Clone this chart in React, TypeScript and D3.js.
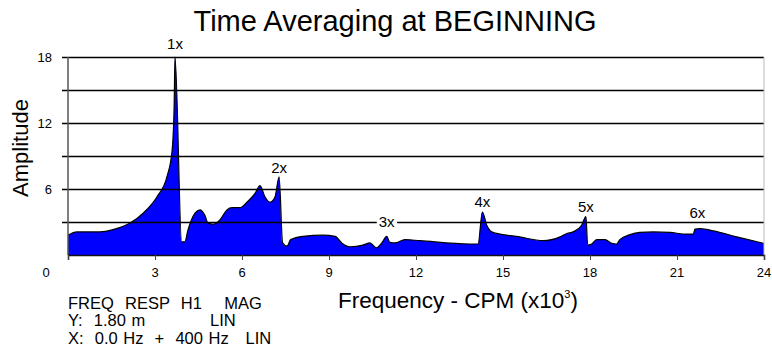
import React, { useRef, useEffect } from "react";
import * as d3 from "d3";

// spectrum: frequency (x1000 CPM) and amplitude
const freqs = [
  0.0, 0.31, 1.1, 1.55, 2.14, 2.59, 3.07, 3.41, 3.59, 3.66, 3.69, 3.92, 4.03, 4.14, 4.38, 4.55,
  4.72, 4.83, 5.0, 5.24, 5.48, 5.66, 5.93, 6.17, 6.45, 6.62, 6.79, 6.97, 7.14, 7.28, 7.4, 7.55,
  7.68, 8.1, 8.79, 9.21, 9.44, 9.72, 10.17, 10.41, 10.64, 10.82, 10.99, 11.1, 11.28, 11.62, 12.14,
  13.86, 14.14, 14.29, 14.44, 14.61, 14.9, 15.47, 16.39, 16.97, 17.2, 17.42, 17.71, 17.86, 17.92,
  18.06, 18.23, 18.52, 18.75, 18.92, 19.03, 19.38, 19.72, 20.18, 20.76, 21.33, 21.56, 21.62,
  21.79, 22.25, 23.06, 24.0,
];
const amps = [
  1.8, 2.1, 2.1, 2.3, 2.9, 3.8, 5.3, 7.1, 9.5, 13.5, 18, 1.2, 1.2, 2.3, 3.8, 4.1,
  3.6, 2.9, 2.8, 3.2, 4.1, 4.3, 4.3, 4.8, 5.6, 6.3, 5.3, 4.8, 5.3, 7.1, 1.1, 0.8,
  1.4, 1.7, 1.8, 1.7, 1.1, 0.75, 0.9, 1.1, 0.65, 1.1, 1.7, 1.15, 1.1, 1.4, 1.3,
  1.0, 1.0, 3.9, 2.7, 2.1, 1.9, 1.7, 1.3, 1.65, 1.95, 2.1, 2.7, 3.5, 0.9,
  1.0, 1.4, 1.4, 1.05, 1.0, 1.4, 1.85, 2.05, 2.1, 2.05, 1.9, 1.9, 2.35,
  2.4, 2.2, 1.65, 1.05,
];

// harmonic annotations
const harmonicLabels = ["1x", "2x", "3x", "4x", "5x", "6x"];
const harmonicFreqs = [3.69, 7.28, 10.99, 14.29, 17.86, 21.7];
const harmonicLabelAmps = [19.2, 7.9, 3.0, 4.8, 4.4, 3.8];

const xTicks = [0, 3, 6, 9, 12, 15, 18, 21, 24];
const yTickLabels = [6, 12, 18];
const gridValues = [3, 6, 9, 12, 15, 18];

const infoLines = ["FREQ  RESP  H1    MAG", "Y:  1.80 m", "X:  0.0 Hz  +  400 Hz   LIN"];

const App = () => {
  const svgRef = useRef<SVGSVGElement>(null);

  useEffect(() => {
    const svg = d3.select(svgRef.current);
    svg.selectAll("*").remove();
    const width = 772;
    const height = 350;
    const margin = { top: 57, right: 8, bottom: 95, left: 68 };
    const font = "'Liberation Sans', Arial, sans-serif";

    svg.attr("width", width).attr("height", height);

    const x = d3.scaleLinear().domain([0, 24]).range([margin.left, width - margin.right]);
    const y = d3.scaleLinear().domain([0, 18]).range([height - margin.bottom, margin.top]);

    const data = freqs.map((f, i) => ({ f, a: amps[i] }));

    // filled spectrum
    const area = d3
      .area<{ f: number; a: number }>()
      .x((d) => x(d.f))
      .y0(y(0))
      .y1((d) => y(d.a))
      .curve(d3.curveMonotoneX);
    svg.append("path").datum(data).attr("d", area).attr("fill", "#0000ff");

    const line = d3
      .line<{ f: number; a: number }>()
      .x((d) => x(d.f))
      .y((d) => y(d.a))
      .curve(d3.curveMonotoneX);
    svg
      .append("path")
      .datum(data)
      .attr("d", line)
      .attr("fill", "none")
      .attr("stroke", "#000")
      .attr("stroke-width", 1.2);

    // horizontal grid lines (drawn over the fill)
    svg
      .selectAll(".grid")
      .data(gridValues)
      .join("line")
      .attr("x1", margin.left - 6)
      .attr("x2", x(24))
      .attr("y1", (d) => y(d) + 0.5)
      .attr("y2", (d) => y(d) + 0.5)
      .attr("stroke", "#000")
      .attr("stroke-width", 1.4);

    // left and right frame
    svg
      .append("line")
      .attr("x1", x(0))
      .attr("x2", x(0))
      .attr("y1", y(18))
      .attr("y2", y(0))
      .attr("stroke", "#555")
      .attr("stroke-width", 1.5);
    svg
      .append("line")
      .attr("x1", x(24))
      .attr("x2", x(24))
      .attr("y1", y(18))
      .attr("y2", y(0))
      .attr("stroke", "#bbb")
      .attr("stroke-width", 1);

    // x axis
    const xAxis = svg
      .append("g")
      .attr("transform", `translate(0, ${y(0)})`)
      .call(d3.axisBottom(x).tickValues(xTicks).tickSize(5).tickFormat(() => ""));
    xAxis.select(".domain").attr("stroke", "#111").attr("stroke-width", 1.5);
    xAxis.selectAll(".tick line").attr("stroke", "#444");

    svg
      .selectAll(".xlab")
      .data(xTicks)
      .join("text")
      .attr("x", (d) => (d === 0 ? x(d) - 22 : x(d)))
      .attr("y", y(0) + 22)
      .attr("text-anchor", "middle")
      .attr("font-family", font)
      .attr("font-size", 13)
      .text((d) => d);

    svg
      .selectAll(".ylab")
      .data(yTickLabels)
      .join("text")
      .attr("x", margin.left - 16)
      .attr("y", (d) => y(d) + 5)
      .attr("text-anchor", "end")
      .attr("font-family", font)
      .attr("font-size", 13)
      .text((d) => d);

    // harmonic labels
    harmonicLabels.forEach((lab, i) => {
      const t = svg
        .append("text")
        .attr("x", x(harmonicFreqs[i]))
        .attr("y", y(harmonicLabelAmps[i]) + 5)
        .attr("text-anchor", "middle")
        .attr("font-family", font)
        .attr("font-size", 15)
        .text(lab);
      if (lab === "3x") {
        const bb = (t.node() as SVGTextElement).getBBox();
        svg
          .insert("rect", () => t.node() as SVGTextElement)
          .attr("x", bb.x - 2)
          .attr("y", bb.y)
          .attr("width", bb.width + 4)
          .attr("height", bb.height)
          .attr("fill", "#fff");
      }
    });

    // titles
    svg
      .append("text")
      .attr("x", 395)
      .attr("y", 31)
      .attr("text-anchor", "middle")
      .attr("font-family", font)
      .attr("font-size", 29)
      .text("Time Averaging at BEGINNING");

    svg
      .append("text")
      .attr("transform", `translate(28, 148) rotate(-90)`)
      .attr("text-anchor", "middle")
      .attr("font-family", font)
      .attr("font-size", 22)
      .text("Amplitude");

    const xt = svg
      .append("text")
      .attr("x", 338)
      .attr("y", 307.5)
      .attr("font-family", font)
      .attr("font-size", 22.5)
      .text("Frequency - CPM (x10");
    xt.append("tspan").attr("font-size", 11).attr("dy", -10).text("3");
    xt.append("tspan").attr("dy", 10).text(")");

    // info block
    svg
      .selectAll(".info")
      .data(infoLines)
      .join("text")
      .attr("x", margin.left)
      .attr("y", (d, i) => 308.5 + i * 17.8)
      .attr("font-family", font)
      .attr("font-size", 16.5)
      .attr("word-spacing", 1)
      .style("white-space", "pre")
      .text((d) => d);
    svg
      .append("text")
      .attr("x", 210)
      .attr("y", 326.3)
      .attr("font-family", font)
      .attr("font-size", 16.5)
      .text("LIN");
  }, []);

  return <svg ref={svgRef} style={{ position: "absolute", left: 0, top: 0 }}></svg>;
};

export default App;
